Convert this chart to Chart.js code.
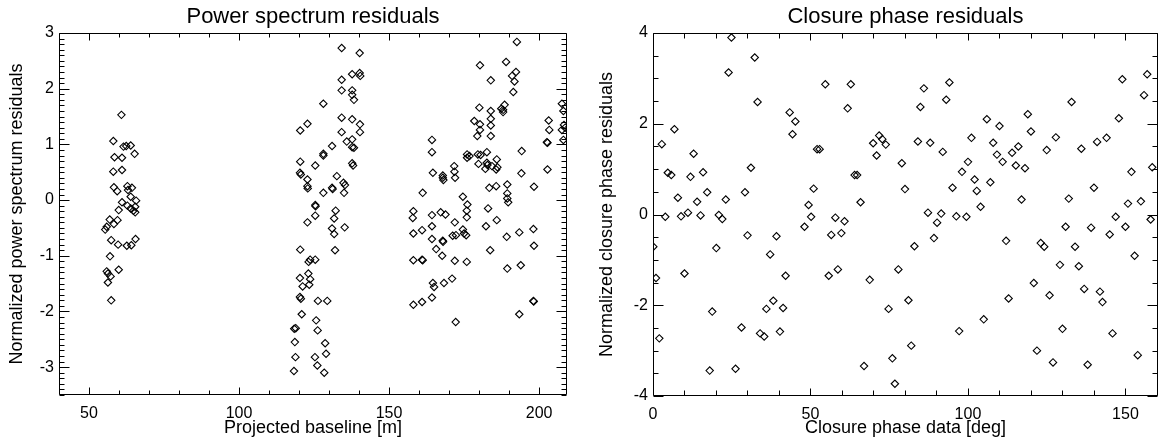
<!DOCTYPE html>
<html>
<head>
<meta charset="utf-8">
<script src="https://cdn.jsdelivr.net/npm/chart.js@4.4.1/dist/chart.umd.min.js"></script>
<style>
  html, body { margin: 0; padding: 0; background: #fff; overflow: hidden; width: 1161px; height: 447px; }
  #ps { position: absolute; left: 0; top: 0; }
  #cp { position: absolute; left: 580px; top: 0; }
</style>
</head>
<body>
<canvas id="ps" width="580" height="447"></canvas>
<canvas id="cp" width="583" height="447"></canvas>
<script>
// Power spectrum residuals: [projected baseline (m), normalized residual]
const psPoints = [
  [60.8, 1.53], [58.1, 1.06], [61.5, 0.96], [62.4, 0.97], [63.9, 0.98], [65.2, 0.83], [58.5, 0.77], [61, 0.76],
  [58.1, 0.51], [61, 0.54], [58.3, 0.23], [59.4, 0.16], [62.8, 0.25], [64.3, 0.22], [63, 0.18], [63.9, 0.06],
  [65.7, -0.01], [61, -0.04], [62.8, -0.10], [59.9, -0.18], [63.9, -0.15], [64.8, -0.19], [65.4, -0.22], [65.4, -0.12],
  [56.9, -0.35], [59.5, -0.36], [58.3, -0.43], [55.9, -0.48], [55.4, -0.53], [65.5, -0.70], [57.4, -0.72], [59.7, -0.80],
  [62.6, -0.82], [64.1, -0.81], [57, -1.01], [59.9, -1.25], [55.9, -1.28], [56.3, -1.32], [57.2, -1.37], [56.3, -1.48],
  [57.4, -1.80],

  [134.2, 2.73], [140.2, 2.64], [137.7, 2.26], [140.2, 2.28], [140.4, 2.23], [134.2, 2.16], [134.2, 1.97], [137.7, 1.97],
  [137.7, 1.89], [138.3, 1.80], [128.1, 1.73], [134.2, 1.48], [137.7, 1.45], [140.3, 1.36], [140.3, 1.22], [134.2, 1.22],
  [122.8, 1.37], [120.4, 1.25], [135.9, 1.05], [137.7, 1.09], [137.7, 0.95], [138.3, 0.94], [131, 0.97], [128.1, 0.83],
  [128.1, 0.80], [120.4, 0.69], [137.7, 0.66], [138, 0.62], [120.3, 0.49], [120.6, 0.46], [125.4, 0.62], [122.8, 0.37],
  [122.8, 0.25], [122.9, 0.21], [132.6, 0.43], [131, 0.22], [131.2, 0.20], [134.8, 0.31], [135.3, 0.27], [135, 0.13],
  [128.1, 0.13], [125.4, -0.09], [125.5, -0.11], [125.4, -0.28], [122.8, -0.40], [132.2, -0.19], [131.7, -0.33], [135.2, -0.49],
  [131, -0.51], [131.7, -0.61], [132, -0.90], [120.4, -0.89], [123.7, -1.07], [123.2, -1.11], [125.4, -1.07], [123.1, -1.32],
  [120.3, -1.40], [121.2, -1.55], [123.4, -1.52], [123.7, -1.42], [120.3, -1.74], [120.6, -1.77], [126.3, -1.81], [129.4, -1.81],
  [120.9, -2.05], [125.7, -2.16], [118.4, -2.31], [118.9, -2.30], [126.2, -2.34], [118.6, -2.55], [128.7, -2.57], [129, -2.76],
  [118.8, -2.82], [125.3, -2.82], [126.1, -2.97], [118.3, -3.07], [128.4, -3.10],

  [158.1, -0.20], [157.9, -0.32], [158.1, -0.60], [161, -0.54], [158.1, -1.08], [161, -1.07], [161.2, -1.08], [158.1, -1.88],
  [161, -1.83], [161.2, 0.13], [192.6, 2.84], [180.3, 2.42], [189, 2.48], [183.9, 2.15], [192.3, 2.30], [191, 2.23],
  [191.8, 2.13], [191.4, 1.94], [180.1, 1.66], [183.9, 1.60], [183.9, 1.46], [187.4, 1.64], [188, 1.62], [188.5, 1.71],
  [188, 1.58], [178.4, 1.42], [180.3, 1.36], [180.3, 1.26], [179.4, 1.15], [183.9, 1.34], [183.9, 1.15], [207.6, 1.73],
  [208.1, 1.60], [208.7, 1.30], [207.6, 1.26], [208.1, 1.08], [208.3, 1.35], [203.2, 1.43], [203.4, 1.26], [202.6, 1.04],
  [202.8, 1.03], [194.2, 0.88], [164.3, 1.08], [164.3, 0.86], [202.8, 0.55], [194.1, 0.48], [176, 0.82], [176, 0.76],
  [176.8, 0.79], [179.6, 0.82], [180.5, 0.81], [182.6, 0.86], [179.8, 0.65], [182.6, 0.67], [182.8, 0.63], [182.1, 0.56],
  [184.3, 0.61], [185.9, 0.73], [186.1, 0.59], [185.7, 0.55], [164.6, 0.49], [167.9, 0.44], [167.9, 0.40], [168.1, 0.36],
  [171.7, 0.61], [171.8, 0.51], [172, 0.40], [183.4, 0.22], [185.7, 0.25], [189.4, 0.28], [198.3, 0.24], [174.6, 0.06],
  [189.4, 0.12], [189.4, 0.03], [189.7, -0.04], [176.1, -0.08], [175.9, -0.19], [175.9, -0.31], [183, -0.15], [185.9, -0.36],
  [164.3, -0.27], [167.2, -0.22], [168.8, -0.26], [171.9, -0.40], [164.3, -0.47], [182.3, -0.47], [164.3, -0.70], [167.9, -0.73],
  [168, -0.75], [171.2, -0.64], [172.3, -0.63], [174.6, -0.53], [175, -0.60], [175.7, -0.63], [165.7, -0.88], [167.7, -1.00],
  [189.2, -0.66], [193.4, -0.58], [198.1, -0.52], [198.3, -0.82], [183.7, -0.90], [171.9, -1.09], [175.9, -1.11], [189.4, -1.23],
  [193.9, -1.17], [164.6, -1.49], [165, -1.56], [168.3, -1.49], [171, -1.41], [164.3, -1.75], [198.1, -1.81], [198.2, -1.82],
  [193.4, -2.05], [172.2, -2.19]
];

// Closure phase residuals: [closure phase data (deg), normalized residual]
const cpPoints = [
  [24.9, 3.90], [32.3, 3.46], [24, 3.13], [33.2, 2.48], [43.4, 2.25], [45.2, 2.05], [44.3, 1.77], [6.8, 1.88],
  [2.8, 1.55], [12.9, 1.34], [52.1, 1.44], [52.9, 1.44], [4.7, 0.92], [5.8, 0.87], [11.9, 0.83], [15.9, 0.93],
  [31.1, 1.03], [7.9, 0.37], [17.2, 0.49], [14, 0.28], [23.1, 0.33], [29.2, 0.49], [3.9, -0.05], [8.9, -0.04],
  [11.1, 0.04], [15.1, -0.02], [20.9, -0.01], [22, -0.10], [51, 0.57], [49.4, 0.21], [50.2, -0.05], [48.1, -0.27],
  [30, -0.46], [39.2, -0.48], [0.1, -0.71], [20.1, -0.74], [37.2, -0.88], [0.95, -1.40], [10, -1.30], [42.1, -1.35],
  [38.2, -1.90], [36, -2.08], [41.3, -2.06], [18.8, -2.14], [28.1, -2.49], [34, -2.62], [35.3, -2.69], [40.3, -2.58],
  [2, -2.73], [18, -3.44], [26.2, -3.40],
  [54.7, 2.87], [62.8, 2.87], [61.8, 2.34], [84.9, 2.37], [86, 2.78], [94.1, 2.91], [93.1, 2.53], [101.1, 1.69],
  [71.8, 1.74], [72.8, 1.66], [73.9, 1.54], [69.9, 1.57], [71, 1.30], [84.1, 1.61], [88, 1.58], [92, 1.38],
  [79, 1.13], [100, 1.16], [98.1, 0.94], [102.1, 0.77], [102.8, 0.52], [64, 0.87], [64.8, 0.87], [80, 0.56],
  [95.1, 0.59], [65.9, 0.27], [57.9, -0.07], [60.8, -0.15], [56.6, -0.45], [59.8, -0.41], [87.3, 0.04], [91.5, 0.02],
  [90.2, -0.18], [89.2, -0.52], [96.3, -0.04], [99.5, -0.05], [83, -0.70], [55.8, -1.35], [58.7, -1.21], [68.8, -1.44],
  [77.9, -1.21], [81.1, -1.89], [74.8, -2.08], [97.2, -2.57], [82, -2.89], [67, -3.34], [76, -3.17], [76.8, -3.73],
  [149, 2.98], [156.9, 3.09], [155.9, 2.63], [132.9, 2.48], [147.9, 2.12], [106, 2.10], [119, 2.21], [110, 1.95],
  [120, 1.83], [108, 1.58], [127.9, 1.70], [141, 1.60], [144, 1.69], [136, 1.45], [125, 1.42], [116, 1.50],
  [114, 1.36], [109.2, 1.32], [111, 1.16], [115.2, 1.08], [118.1, 1.02], [104, 0.17], [107.1, 0.71], [117, 0.33],
  [140, 0.59], [132, 0.35], [151.9, 0.94], [158.5, 1.04], [150.8, 0.24], [154.9, 0.29], [158, -0.11], [146.9, -0.05],
  [150, -0.27], [131, -0.27], [139.1, -0.29], [145, -0.44], [112.1, -0.58], [123.1, -0.63], [124.2, -0.71], [134, -0.71],
  [152.9, -0.91], [129.2, -1.11], [135.2, -1.14], [120.9, -1.51], [125.9, -1.78], [136.9, -1.64], [141.9, -1.70], [142.7, -1.93],
  [112.9, -1.85], [105, -2.31], [130, -2.52], [145.9, -2.62], [121.9, -3.00], [127, -3.26], [138, -3.31], [153.9, -3.10]
];

const psXTicks = [50, 100, 150, 200];
const psYTicks = [-3, -2, -1, 0, 1, 2, 3];
const cpXTicks = [0, 50, 100, 150];
const cpYTicks = [-4, -2, 0, 2, 4];

const FONT = "'Liberation Sans', Arial, Helvetica, sans-serif";

// box frame with inward major/minor tick marks on all four sides
const frameTicks = {
  id: 'frameTicks',
  afterDraw(chart, args, o) {
    const { ctx, chartArea: a } = chart;
    const L = Math.round(a.left) + 0.5, R = Math.round(a.right) - 0.5;
    const T = Math.round(a.top) + 0.5, B = Math.round(a.bottom) - 0.5;
    const marks = (scale, step, major) => {
      const out = [];
      for (let k = Math.ceil(scale.min / step - 1e-9); k * step <= scale.max + 1e-9; k++) {
        const r = k * step / major;
        out.push([Math.round(scale.getPixelForValue(k * step)) + 0.5, Math.abs(r - Math.round(r)) < 1e-6]);
      }
      return out;
    };
    ctx.save();
    ctx.strokeStyle = '#000';
    ctx.lineWidth = 1;
    ctx.beginPath();
    ctx.rect(L, T, R - L, B - T);
    marks(chart.scales.x, o.xStep, o.xMajor).forEach(([p, big]) => {
      const len = big ? o.xLong : o.xShort;
      ctx.moveTo(p, B); ctx.lineTo(p, B - len);
      ctx.moveTo(p, T); ctx.lineTo(p, T + len);
    });
    marks(chart.scales.y, o.yStep, o.yMajor).forEach(([p, big]) => {
      const len = big ? o.yLong : o.yShort;
      ctx.moveTo(L, p); ctx.lineTo(L + len, p);
      ctx.moveTo(R, p); ctx.lineTo(R - len, p);
    });
    ctx.stroke();
    ctx.restore();
  }
};

function residualChart(id, c) {
  const tickFont = { family: FONT, size: 16 };
  const axisFont = { family: FONT, size: 18 };
  return new Chart(document.getElementById(id), {
    type: 'scatter',
    data: {
      datasets: [{
        data: c.points.map(p => ({ x: p[0], y: p[1] })),
        pointStyle: 'rectRot',
        pointRadius: 3.7,
        pointBorderWidth: 1.1,
        pointBorderColor: '#000',
        pointBackgroundColor: 'rgba(0,0,0,0)'
      }]
    },
    options: {
      responsive: false,
      animation: false,
      devicePixelRatio: 1,
      layout: { padding: { left: 0, right: c.padRight, top: 0, bottom: 0 } },
      plugins: {
        legend: { display: false },
        tooltip: { enabled: false },
        title: {
          display: true, text: c.title, fullSize: false, color: '#000',
          font: { family: FONT, size: 22, weight: 'normal', lineHeight: 1.1 },
          padding: { top: 5.3, bottom: 3.5 }
        },
        frameTicks: c.marks
      },
      scales: {
        x: {
          type: 'linear', min: c.xMin, max: c.xMax,
          afterBuildTicks: s => { s.ticks = c.xTicks.map(v => ({ value: v })); },
          afterFit: s => { s.height = c.xHeight; },
          grid: { display: false, drawTicks: false },
          border: { display: false },
          ticks: { color: '#000', font: tickFont, padding: 9, maxRotation: 0, callback: v => String(v) },
          title: { display: true, text: c.xTitle, color: '#000', font: axisFont, padding: { top: 0, bottom: 8 } }
        },
        y: {
          type: 'linear', min: c.yMin, max: c.yMax,
          afterBuildTicks: s => { s.ticks = c.yTicks.map(v => ({ value: v })); },
          afterFit: s => { s.width = c.yWidth; },
          grid: { display: false, drawTicks: false },
          border: { display: false },
          ticks: { color: '#000', font: tickFont, padding: 5, callback: v => String(v) },
          title: { display: true, text: c.yTitle, color: '#000', font: axisFont, padding: { top: c.yTitlePad, bottom: 0 } }
        }
      }
    },
    plugins: [frameTicks]
  });
}

residualChart('ps', {
  points: psPoints, title: 'Power spectrum residuals',
  xTitle: 'Projected baseline [m]', yTitle: 'Normalized power spectrum residuals',
  xMin: 40, xMax: 209.3, yMin: -3.5, yMax: 3,
  xTicks: psXTicks, yTicks: psYTicks,
  padRight: 13, yWidth: 59, xHeight: 52, yTitlePad: 6,
  marks: { xStep: 10, xMajor: 50, xLong: 7, xShort: 4, yStep: 0.1, yMajor: 1, yLong: 10, yShort: 5 }
});

residualChart('cp', {
  points: cpPoints, title: 'Closure phase residuals',
  xTitle: 'Closure phase data [deg]', yTitle: 'Normalized closure phase residuals',
  xMin: 0, xMax: 160.3, yMin: -4, yMax: 4,
  xTicks: cpXTicks, yTicks: cpYTicks,
  padRight: 2, yWidth: 73, xHeight: 51, yTitlePad: 16,
  marks: { xStep: 10, xMajor: 50, xLong: 7, xShort: 5, yStep: 0.5, yMajor: 2, yLong: 10, yShort: 5 }
});
</script>
</body>
</html>
